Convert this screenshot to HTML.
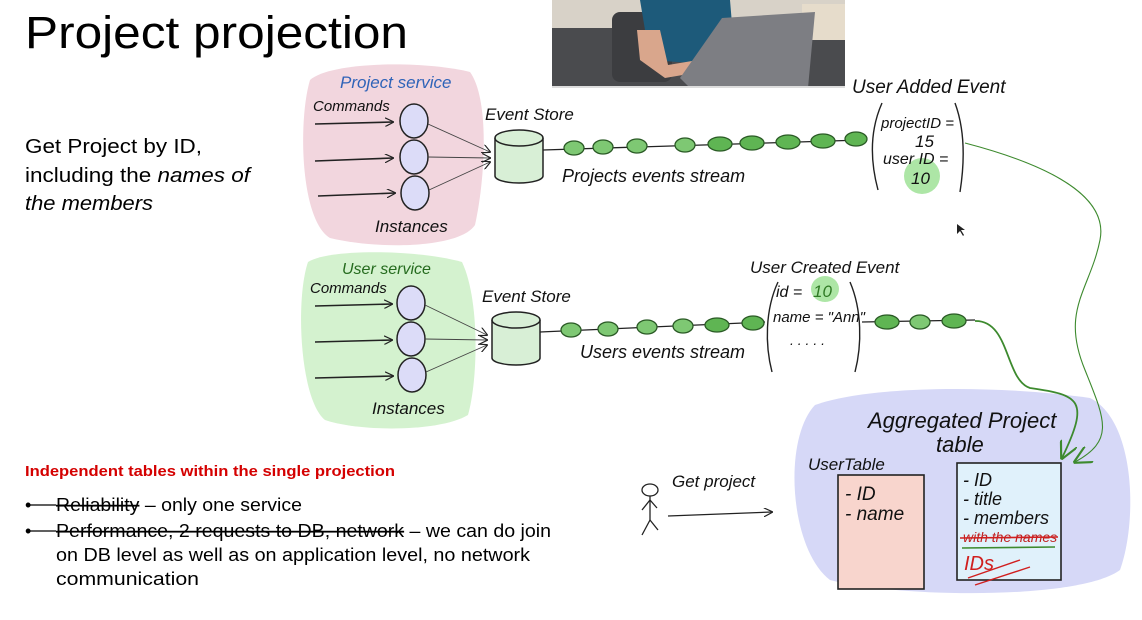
<!DOCTYPE html>
<html><head><meta charset="utf-8"><style>
html,body{margin:0;padding:0;background:#fff;width:1142px;height:620px;overflow:hidden}
svg{display:block}
.h{font-family:"Liberation Sans Narrow","Liberation Sans",sans-serif;font-style:italic;fill:#111}
</style></head><body>
<svg width="1142" height="620" viewBox="0 0 1142 620" xmlns="http://www.w3.org/2000/svg">
<defs>
<marker id="ah" viewBox="0 0 10 10" refX="9" refY="5" markerWidth="9" markerHeight="9" orient="auto" markerUnits="userSpaceOnUse"><path d="M0,0 L10,5 L0,10" fill="none" stroke="#222" stroke-width="1.3"/></marker>
<marker id="ag" viewBox="0 0 10 10" refX="9" refY="5" markerWidth="18" markerHeight="18" orient="auto" markerUnits="userSpaceOnUse"><path d="M0,0 L10,5 L0,10" fill="none" stroke="#3d8a2e" stroke-width="1.2"/></marker>
</defs>

<!-- webcam photo -->
<rect x="552" y="0" width="293" height="88" fill="#d8d2c8"/>
<rect x="552" y="28" width="293" height="60" fill="#4a4b4e"/>
<rect x="612" y="12" width="60" height="70" rx="8" fill="#3c3d40"/>
<rect x="802" y="4" width="43" height="36" fill="#e6dccb"/>
<path d="M640,0 L730,0 L735,60 L720,65 L650,60 Z" fill="#1d5a7a"/>
<path d="M637,30 L660,30 L668,65 L710,58 L712,70 L665,78 L640,60 Z" fill="#d9a68c"/>
<path d="M722,18 L815,12 L808,88 L690,88 L680,78 Z" fill="#7d7e83"/>
<rect x="552" y="86" width="293" height="2" fill="#ddd"/>

<!-- Title and left text -->
<text x="25" y="48" font-family="Liberation Sans, sans-serif" font-size="45" fill="#000" textLength="383" lengthAdjust="spacingAndGlyphs">Project projection</text>
<g font-family="Liberation Sans, sans-serif" font-size="20" fill="#000">
<text x="25" y="153" textLength="177" lengthAdjust="spacingAndGlyphs">Get Project by ID,</text>
<text x="25" y="182" textLength="225" lengthAdjust="spacingAndGlyphs">including the <tspan font-style="italic">names of</tspan></text>
<text x="25" y="210" font-style="italic" textLength="128" lengthAdjust="spacingAndGlyphs">the members</text>
</g>
<text x="25" y="476" font-family="Liberation Sans, sans-serif" font-size="15" font-weight="bold" fill="#d40000" textLength="370" lengthAdjust="spacingAndGlyphs">Independent tables within the single projection</text>
<g font-family="Liberation Sans, sans-serif" font-size="18" fill="#000">
<text x="25" y="511">•</text>
<text x="56" y="511" textLength="246" lengthAdjust="spacingAndGlyphs"><tspan text-decoration="line-through">Reliability</tspan> – only one service</text>
<line x1="27" y1="505" x2="56" y2="505" stroke="#000" stroke-width="1.3"/>
<text x="25" y="537">•</text>
<text x="56" y="537" textLength="495" lengthAdjust="spacingAndGlyphs"><tspan text-decoration="line-through">Performance, 2 requests to DB, network</tspan> – we can do join</text>
<line x1="27" y1="531" x2="56" y2="531" stroke="#000" stroke-width="1.3"/>
<text x="56" y="561" textLength="474" lengthAdjust="spacingAndGlyphs">on DB level as well as on application level, no network</text>
<text x="56" y="585" textLength="143" lengthAdjust="spacingAndGlyphs">communication</text>
</g>

<!-- blobs -->
<path d="M310,80 C330,62 420,60 470,72 C490,100 485,180 475,225 C460,248 380,250 330,238 C300,220 298,120 310,80 Z" fill="#f2d6de"/>
<path d="M308,262 C330,248 420,250 462,262 C480,300 478,380 468,415 C440,432 360,432 325,420 C300,400 295,300 308,262 Z" fill="#d4f2cf"/>
<path d="M815,405 C870,385 1000,385 1090,398 C1135,420 1138,520 1120,570 C1080,600 900,598 830,580 C790,550 782,440 815,405 Z" fill="#d6d8f7"/>

<!-- service labels -->
<text x="340" y="88" class="h" font-size="17" style="fill:#2f63b8">Project service</text>
<text x="313" y="111" class="h" font-size="15">Commands</text>
<text x="375" y="232" class="h" font-size="17">Instances</text>
<text x="342" y="274" class="h" font-size="16" style="fill:#256b1e">User service</text>
<text x="310" y="293" class="h" font-size="15">Commands</text>
<text x="372" y="414" class="h" font-size="17">Instances</text>

<g stroke="#222" stroke-width="1.6" fill="none">
<line x1="315" y1="124" x2="393" y2="122" marker-end="url(#ah)"/>
<line x1="315" y1="161" x2="393" y2="158" marker-end="url(#ah)"/>
<line x1="318" y1="196" x2="395" y2="193" marker-end="url(#ah)"/>
<line x1="315" y1="306" x2="392" y2="304" marker-end="url(#ah)"/>
<line x1="315" y1="342" x2="392" y2="340" marker-end="url(#ah)"/>
<line x1="315" y1="378" x2="393" y2="376" marker-end="url(#ah)"/>
</g>
<g fill="#dcdcf8" stroke="#222" stroke-width="1.5">
<ellipse cx="414" cy="121" rx="14" ry="17"/><ellipse cx="414" cy="157" rx="14" ry="17"/><ellipse cx="415" cy="193" rx="14" ry="17"/>
<ellipse cx="411" cy="303" rx="14" ry="17"/><ellipse cx="411" cy="339" rx="14" ry="17"/><ellipse cx="412" cy="375" rx="14" ry="17"/>
</g>
<g stroke="#444" stroke-width="0.9" fill="none">
<line x1="428" y1="124" x2="490" y2="152" marker-end="url(#ah)"/>
<line x1="428" y1="157" x2="490" y2="158" marker-end="url(#ah)"/>
<line x1="429" y1="190" x2="490" y2="162" marker-end="url(#ah)"/>
<line x1="425" y1="305" x2="487" y2="335" marker-end="url(#ah)"/>
<line x1="425" y1="339" x2="487" y2="340" marker-end="url(#ah)"/>
<line x1="426" y1="372" x2="487" y2="345" marker-end="url(#ah)"/>
</g>

<g stroke="#222" stroke-width="1.5" fill="#d8efd6">
<path d="M495,138 L495,176 A24,7 0 0 0 543,176 L543,138"/>
<ellipse cx="519" cy="138" rx="24" ry="8"/>
<path d="M492,320 L492,358 A24,7 0 0 0 540,358 L540,320"/>
<ellipse cx="516" cy="320" rx="24" ry="8"/>
</g>
<text x="485" y="120" class="h" font-size="17">Event Store</text>
<text x="482" y="302" class="h" font-size="17">Event Store</text>

<line x1="543" y1="150" x2="862" y2="140" stroke="#222" stroke-width="1.3"/>
<g fill="#7ec873" stroke="#2a5a25" stroke-width="1.3">
<ellipse cx="574" cy="148" rx="10" ry="7"/><ellipse cx="603" cy="147" rx="10" ry="7"/><ellipse cx="637" cy="146" rx="10" ry="7"/><ellipse cx="685" cy="145" rx="10" ry="7"/>
<ellipse cx="720" cy="144" rx="12" ry="7" fill="#5fb553"/><ellipse cx="752" cy="143" rx="12" ry="7" fill="#5fb553"/><ellipse cx="788" cy="142" rx="12" ry="7" fill="#5fb553"/><ellipse cx="823" cy="141" rx="12" ry="7" fill="#5fb553"/><ellipse cx="856" cy="139" rx="11" ry="7" fill="#5fb553"/>
</g>
<text x="562" y="182" class="h" font-size="18">Projects events stream</text>

<line x1="540" y1="332" x2="765" y2="322" stroke="#222" stroke-width="1.3"/>
<g fill="#7ec873" stroke="#2a5a25" stroke-width="1.3">
<ellipse cx="571" cy="330" rx="10" ry="7"/><ellipse cx="608" cy="329" rx="10" ry="7"/><ellipse cx="647" cy="327" rx="10" ry="7"/><ellipse cx="683" cy="326" rx="10" ry="7"/>
<ellipse cx="717" cy="325" rx="12" ry="7" fill="#5fb553"/><ellipse cx="753" cy="323" rx="11" ry="7" fill="#5fb553"/>
</g>
<text x="580" y="358" class="h" font-size="18">Users events stream</text>

<text x="852" y="93" class="h" font-size="19">User Added Event</text>
<path d="M882,103 C870,130 870,160 878,190" stroke="#222" stroke-width="1.4" fill="none"/>
<path d="M955,103 C965,130 965,160 960,192" stroke="#222" stroke-width="1.4" fill="none"/>
<ellipse cx="922" cy="176" rx="18" ry="18" fill="#9fe296" opacity="0.85"/>
<text x="881" y="128" class="h" font-size="15">projectID =</text>
<text x="915" y="147" class="h" font-size="17">15</text>
<text x="883" y="164" class="h" font-size="16">user ID =</text>
<text x="911" y="184" class="h" font-size="17">10</text>

<text x="750" y="273" class="h" font-size="17">User Created Event</text>
<path d="M778,282 C765,310 765,345 772,372" stroke="#222" stroke-width="1.4" fill="none"/>
<path d="M850,282 C862,310 862,345 855,372" stroke="#222" stroke-width="1.4" fill="none"/>
<ellipse cx="825" cy="289" rx="14" ry="13" fill="#9fe296" opacity="0.85"/>
<text x="776" y="297" class="h" font-size="16">id =</text>
<text x="813" y="297" class="h" font-size="17" style="fill:#2f7a24">10</text>
<text x="773" y="322" class="h" font-size="15">name = "Ann"</text>
<text x="790" y="345" class="h" font-size="14">. . . . .</text>

<line x1="862" y1="322" x2="975" y2="320" stroke="#222" stroke-width="1.2"/>
<g fill="#5fb553" stroke="#2a5a25" stroke-width="1.3">
<ellipse cx="887" cy="322" rx="12" ry="7"/><ellipse cx="920" cy="322" rx="10" ry="7" fill="#7ec873"/><ellipse cx="954" cy="321" rx="12" ry="7"/>
</g>

<path d="M965,143 C1030,160 1110,190 1100,240 C1090,290 1060,310 1085,370 C1105,420 1115,440 1075,462" stroke="#3d8a2e" stroke-width="1.1" fill="none" marker-end="url(#ag)"/>
<path d="M975,321 C1010,320 1005,380 1030,388 C1080,395 1090,400 1062,458" stroke="#3d8a2e" stroke-width="1.8" fill="none" marker-end="url(#ag)"/>

<path d="M957,224 L957,234 L960,231 L963,236 L964,235 L961,230 L965,230 Z" fill="#222"/>

<text x="868" y="428" class="h" font-size="22">Aggregated Project</text>
<text x="936" y="452" class="h" font-size="22">table</text>
<text x="808" y="470" class="h" font-size="17">UserTable</text>
<rect x="838" y="475" width="86" height="114" fill="#f8d5cd" stroke="#222" stroke-width="1.6"/>
<text x="845" y="500" class="h" font-size="19">- ID</text>
<text x="845" y="520" class="h" font-size="19">- name</text>
<rect x="957" y="463" width="104" height="117" fill="#e0f1fb" stroke="#222" stroke-width="1.6"/>
<text x="963" y="486" class="h" font-size="18">- ID</text>
<text x="963" y="505" class="h" font-size="18">- title</text>
<text x="963" y="524" class="h" font-size="18">- members</text>
<text x="963" y="542" class="h" font-size="14" style="fill:#c02020">with the names</text>
<line x1="960" y1="538" x2="1058" y2="537" stroke="#d01f1f" stroke-width="1.6"/>
<line x1="962" y1="548" x2="1055" y2="547" stroke="#3d8a2e" stroke-width="1.6"/>
<text x="964" y="570" class="h" font-size="20" style="fill:#d01f1f">IDs</text>
<line x1="968" y1="578" x2="1020" y2="560" stroke="#d01f1f" stroke-width="1.4"/>
<line x1="975" y1="585" x2="1030" y2="567" stroke="#d01f1f" stroke-width="1.4"/>

<g stroke="#222" stroke-width="1.3" fill="none">
<ellipse cx="650" cy="490" rx="8" ry="6"/>
<line x1="650" y1="496" x2="650" y2="520"/>
<path d="M642,510 L650,500 L657,508"/>
<path d="M642,535 L650,520 L658,530"/>
<line x1="668" y1="516" x2="772" y2="512" marker-end="url(#ah)"/>
</g>
<text x="672" y="487" class="h" font-size="17">Get project</text>
</svg>
</body></html>
